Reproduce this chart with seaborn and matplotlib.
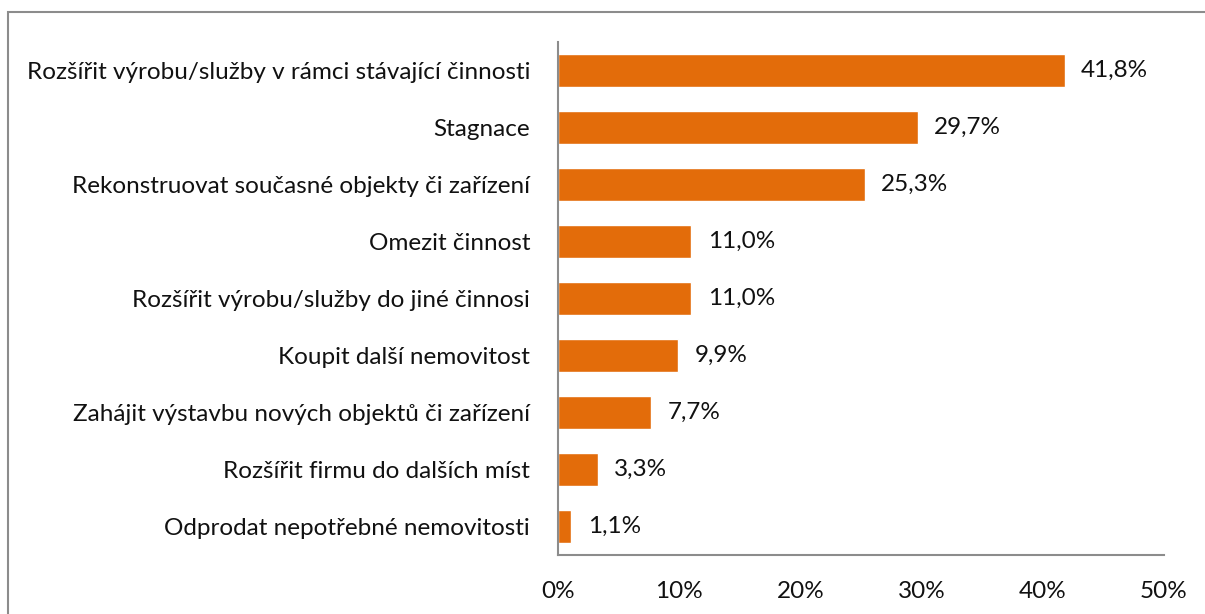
import matplotlib
matplotlib.use("Agg")
import matplotlib.pyplot as plt
import matplotlib.patches as patches
import seaborn as sns
import pandas as pd

categories = [
    "Rozšířit výrobu/služby v rámci stávající činnosti",
    "Stagnace",
    "Rekonstruovat současné objekty či zařízení",
    "Omezit činnost",
    "Rozšířit výrobu/služby do jiné činnosi",
    "Koupit další nemovitost",
    "Zahájit výstavbu nových objektů či zařízení",
    "Rozšířit firmu do dalších míst",
    "Odprodat nepotřebné nemovitosti",
]
values = [41.8, 29.7, 25.3, 11.0, 11.0, 9.9, 7.7, 3.3, 1.1]
x_ticks = [0, 10, 20, 30, 40, 50]
x_tick_labels = ["0%", "10%", "20%", "30%", "40%", "50%"]

sns.set_theme(style="white")
plt.rcParams["font.family"] = ["Lato", "DejaVu Sans"]

df = pd.DataFrame({"kategorie": categories, "podil": values})

fig = plt.figure(figsize=(12.05, 6.14), dpi=100)
ax = fig.add_axes([558 / 1205, 1 - 555 / 614, (1164 - 558) / 1205, (555 - 42) / 614])

bar_color = "#E36C0A"
text_color = "#111111"
fs = 17.5
sns.barplot(data=df, x="podil", y="kategorie", orient="h", color=bar_color,
            width=0.58, saturation=1, ax=ax)

for patch, v in zip(ax.patches, values):
    ax.text(patch.get_width() + 1.35, patch.get_y() + patch.get_height() / 2,
            f"{v:.1f}%".replace(".", ","), va="center", ha="left",
            fontsize=fs, color=text_color)

ax.set_xlim(0, 50)
ax.set_xticks(x_ticks)
ax.set_xticklabels(x_tick_labels)
ax.set_xlabel("")
ax.set_ylabel("")
ax.tick_params(axis="x", length=0, pad=19, labelsize=fs, labelcolor=text_color)
ax.tick_params(axis="y", length=0, pad=20, labelsize=fs, labelcolor=text_color)

for side in ["top", "right"]:
    ax.spines[side].set_visible(False)
for side in ["left", "bottom"]:
    ax.spines[side].set_color("#8c8c8c")
    ax.spines[side].set_linewidth(1.5)

# outer chart frame, open towards the right and bottom edges
frame = patches.Rectangle((8 / 1205, -0.1), 1.2, 1.1 - 12 / 614,
                          transform=fig.transFigure, fill=False,
                          edgecolor="#8c8c8c", linewidth=1.5)
fig.patches.append(frame)

fig.savefig("out.png", dpi=100)
